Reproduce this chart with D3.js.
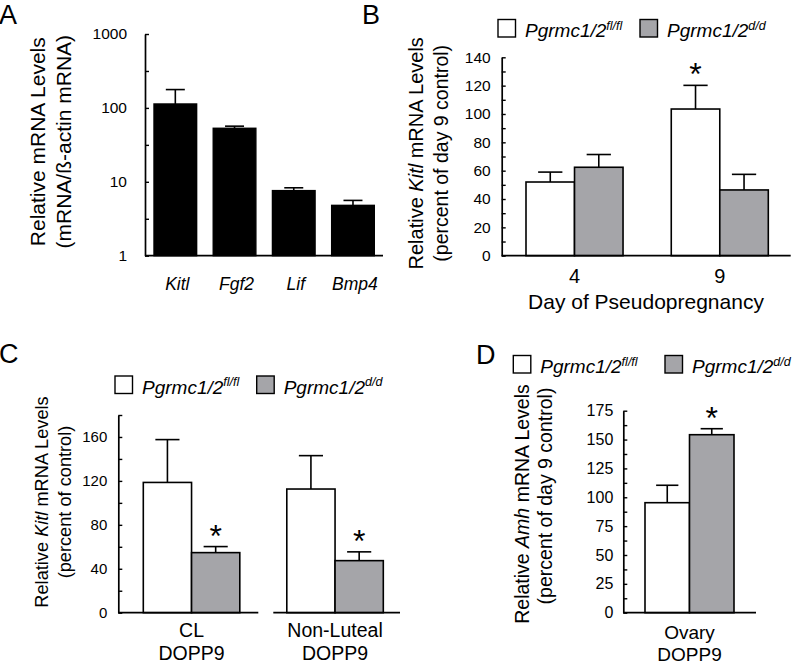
<!DOCTYPE html>
<html><head><meta charset="utf-8">
<script src="https://cdn.jsdelivr.net/npm/d3@7"></script>
<style>
body{margin:0;background:#fff}
svg text{font-family:"Liberation Sans",Arial,Helvetica,sans-serif;fill:#000;white-space:pre}
</style></head><body>
<svg id="c" width="800" height="665"></svg>
<script>
// ---------------- Data ----------------
// Panel A (log scale)
const aGenes = ["Kitl", "Fgf2", "Lif", "Bmp4"];
const aMean  = [113, 53, 7.6, 4.8];
const aSem   = [64, 3.6, 0.7, 0.8];
const aTicks = [1, 10, 100, 1000];
const aMinor = [3.16, 31.6, 316];

// Genotypes / legend
const genoKeys = ["fl", "dd"];
const genoBase = "Pgrmc1/2";
const genoSup  = ["fl/fl", "d/d"];

// Panel B
const bDays   = ["4", "9"];
const bFl     = [52, 103.5];
const bFlSem  = [7, 16.7];
const bDd     = [62.4, 46.4];
const bDdSem  = [9, 11];
const bFlSig  = [false, true];
const bDdSig  = [false, false];
const bTicks  = [0, 20, 40, 60, 80, 100, 120, 140];
const bMinor  = [10, 30, 50, 70, 90, 110, 130];

// Panel C
const cGroups = ["CL", "Non-Luteal"];
const cSub    = "DOPP9";
const cFl     = [118.6, 112.6];
const cFlSem  = [39, 30.4];
const cDd     = [54.7, 47.4];
const cDdSem  = [5.5, 8];
const cFlSig  = [false, false];
const cDdSig  = [true, true];
const cTicks  = [0, 40, 80, 120, 160];
const cMinor  = [20, 60, 100, 140, 180];

// Panel D
const dGroups = ["Ovary"];
const dSub    = "DOPP9";
const dFl     = [95.3];
const dFlSem  = [15.1];
const dDd     = [154.2];
const dDdSem  = [5.2];
const dFlSig  = [false];
const dDdSig  = [true];
const dTicks  = [0, 25, 50, 75, 100, 125, 150, 175];
const dMinor  = [12.5, 37.5, 62.5, 87.5, 112.5, 137.5, 162.5];

// ---------------- Drawing ----------------
const svg = d3.select("#c");
const GRAY = "#a5a5a9";
const fills = {fl: "#ffffff", dd: GRAY};

function yAxis(scale, x, ticks, minor, fs, pad) {
  const all = ticks.concat(minor).sort((a, b) => a - b);
  const ax = d3.axisLeft(scale).tickValues(all)
    .tickSizeInner(-4).tickSizeOuter(0).tickPadding(pad)
    .tickFormat(d => ticks.includes(d) ? String(d) : "");
  const a = svg.append("g").attr("transform", `translate(${x},0)`).call(ax);
  a.select(".domain").attr("stroke", "#000").attr("stroke-width", 1.7);
  a.selectAll(".tick line").attr("stroke", "#000").attr("stroke-width", 1.4);
  a.selectAll(".tick text").attr("font-size", fs).attr("fill", "#000");
}

function xLine(x1, x2, y) {
  svg.append("line").attr("x1", x1).attr("x2", x2).attr("y1", y).attr("y2", y)
    .attr("stroke", "#000").attr("stroke-width", 1.7);
}

function panelLabel(t, x, y) {
  svg.append("text").attr("x", x).attr("y", y).attr("font-size", 27).text(t);
}

function yTitle(cx, cy, fs, parts) {
  const t = svg.append("text").attr("transform", `translate(${cx},${cy}) rotate(-90)`)
    .attr("text-anchor", "middle").attr("dominant-baseline", "central").attr("font-size", fs);
  parts.forEach(p => t.append("tspan").attr("font-style", p[1] ? "italic" : "normal").text(p[0]));
}

function legend(x1, x2, base, fs) {
  const sq = 17.5;
  [x1, x2].forEach((lx, i) => {
    svg.append("rect").attr("x", lx).attr("y", base - sq).attr("width", sq).attr("height", sq)
      .attr("fill", fills[genoKeys[i]]).attr("stroke", "#000").attr("stroke-width", 1.4);
    const t = svg.append("text").attr("x", lx + sq + 9.5).attr("y", base)
      .attr("font-size", fs).attr("font-style", "italic");
    t.append("tspan").text(genoBase);
    t.append("tspan").attr("font-size", fs * 0.66).attr("dy", -fs * 0.38).text(genoSup[i]);
  });
}

// ---- Panel A ----
(function () {
  const y = d3.scaleLog().domain([1, 1000]).range([255.7, 34]);
  const x = d3.scaleBand().domain(aGenes).range([154, 374.3]).paddingInner(0.28).paddingOuter(0);
  const bw = x.bandwidth();
  const data = aGenes.map((g, i) => ({g, v: aMean[i], s: aSem[i]}));
  const eb = svg.append("g").attr("stroke", "#000").attr("stroke-width", 1.6);
  eb.selectAll(".v").data(data).join("line")
    .attr("x1", d => x(d.g) + bw / 2).attr("x2", d => x(d.g) + bw / 2)
    .attr("y1", d => y(d.v)).attr("y2", d => y(d.v + d.s));
  eb.selectAll(".c").data(data).join("line")
    .attr("x1", d => x(d.g) + bw / 2 - 9.5).attr("x2", d => x(d.g) + bw / 2 + 9.5)
    .attr("y1", d => y(d.v + d.s)).attr("y2", d => y(d.v + d.s));
  svg.append("g").selectAll("rect").data(data).join("rect")
    .attr("x", d => x(d.g)).attr("width", bw)
    .attr("y", d => y(d.v)).attr("height", d => y(1) - y(d.v))
    .attr("fill", "#000").attr("stroke", "#000").attr("stroke-width", 1.4);
  yAxis(y, 145, aTicks, aMinor, 15.5, 18);
  xLine(145, 383, y(1));
  svg.append("g").selectAll("text").data(data).join("text")
    .attr("x", d => x(d.g) + bw / 2 + 2).attr("y", 289.5)
    .attr("text-anchor", "middle").attr("font-size", 17.5).attr("font-style", "italic")
    .text(d => d.g);
  yTitle(36.7, 141.7, 21, [["Relative mRNA Levels", false]]);
  yTitle(63, 141.7, 21, [["(mRNA/ß-actin mRNA)", false]]);
  panelLabel("A", -1, 24);
})();

// ---- Grouped panels ----
function grouped(o) {
  const y = d3.scaleLinear().domain(o.yDomain).range(o.yRange);
  const x0 = d3.scaleBand().domain(o.groups).range(o.xRange).paddingInner(o.pad).paddingOuter(0);
  const x1 = d3.scaleBand().domain(genoKeys).range([0, x0.bandwidth()]);
  const bw = x1.bandwidth();
  const rows = [];
  o.groups.forEach((grp, i) => {
    rows.push({grp, k: "fl", v: o.fl[i], s: o.flSem[i], sig: o.flSig[i]});
    rows.push({grp, k: "dd", v: o.dd[i], s: o.ddSem[i], sig: o.ddSig[i]});
  });
  const cx = d => x0(d.grp) + x1(d.k) + bw / 2;
  const eb = svg.append("g").attr("stroke", "#000").attr("stroke-width", 1.6);
  eb.selectAll(".v").data(rows).join("line")
    .attr("x1", cx).attr("x2", cx)
    .attr("y1", d => y(d.v)).attr("y2", d => y(d.v + d.s));
  eb.selectAll(".c").data(rows).join("line")
    .attr("x1", d => cx(d) - bw * 0.25).attr("x2", d => cx(d) + bw * 0.25)
    .attr("y1", d => y(d.v + d.s)).attr("y2", d => y(d.v + d.s));
  svg.append("g").selectAll("rect").data(rows).join("rect")
    .attr("x", d => x0(d.grp) + x1(d.k)).attr("width", bw)
    .attr("y", d => y(d.v)).attr("height", d => y(0) - y(d.v))
    .attr("fill", d => fills[d.k]).attr("stroke", "#000").attr("stroke-width", 1.6);
  svg.append("g").selectAll("text").data(rows.filter(d => d.sig)).join("text")
    .attr("x", cx).attr("y", d => y(d.v + d.s))
    .attr("text-anchor", "middle").attr("font-size", 32).text("*");
  yAxis(y, o.axisX, o.ticks, o.minor, o.tickFs, o.tickPad);
  o.segments.forEach(s => xLine(s[0], s[1], y(0)));
  svg.append("g").selectAll("text").data(o.groups).join("text")
    .attr("x", d => x0(d) + x0.bandwidth() / 2).attr("y", o.labY)
    .attr("text-anchor", "middle").attr("font-size", o.labFs).text(d => d);
  if (o.sub) {
    svg.append("g").selectAll("text").data(o.groups).join("text")
      .attr("x", d => x0(d) + x0.bandwidth() / 2).attr("y", o.subY)
      .attr("text-anchor", "middle").attr("font-size", o.labFs).text(o.sub);
  }
}

// Panel B
grouped({
  groups: bDays, fl: bFl, flSem: bFlSem, dd: bDd, ddSem: bDdSem, flSig: bFlSig, ddSig: bDdSig,
  yDomain: [0, 140], yRange: [255.7, 57.3], xRange: [526, 768.3], pad: 0.332,
  axisX: 501.7, ticks: bTicks, minor: bMinor, tickFs: 15.5, tickPad: 11,
  segments: [[501.7, 790.7]], labY: 283, labFs: 20
});
svg.append("text").attr("x", 646).attr("y", 309).attr("text-anchor", "middle")
  .attr("font-size", 21).text("Day of Pseudopregnancy");
yTitle(415.7, 153.3, 20, [["Relative ", false], ["Kitl", true], [" mRNA Levels", false]]);
yTitle(440.7, 153.3, 19.5, [["(percent of day 9 control)", false]]);
legend(498, 640, 37, 19);
panelLabel("B", 362, 24);

// Panel C
grouped({
  groups: cGroups, fl: cFl, flSem: cFlSem, dd: cDd, ddSem: cDdSem, flSig: cFlSig, ddSig: cDdSig,
  yDomain: [0, 180], yRange: [612.7, 415], xRange: [143.3, 383.3], pad: 0.3275,
  axisX: 118.3, ticks: cTicks, minor: cMinor, tickFs: 15, tickPad: 11,
  segments: [[118.3, 258.3], [273.3, 400]], labY: 637, subY: 660, sub: cSub, labFs: 19.5
});
yTitle(41.7, 502, 18.2, [["Relative ", false], ["Kitl", true], [" mRNA Levels", false]]);
yTitle(64.5, 502, 18.2, [["(percent of control)", false]]);
legend(115, 256.7, 393.5, 19);
panelLabel("C", -1, 363);

// Panel D
grouped({
  groups: dGroups, fl: dFl, flSem: dFlSem, dd: dDd, ddSem: dDdSem, flSig: dFlSig, ddSig: dDdSig,
  yDomain: [0, 175], yRange: [612.7, 410.7], xRange: [645, 734], pad: 0,
  axisX: 623.3, ticks: dTicks, minor: dMinor, tickFs: 16, tickPad: 10,
  segments: [[623.3, 756]], labY: 639, subY: 660.5, sub: dSub, labFs: 19
});
yTitle(521.7, 504, 19.5, [["Relative ", false], ["Amh", true], [" mRNA Levels", false]]);
yTitle(545, 496, 19.5, [["(percent of day 9 control)", false]]);
legend(513.3, 665, 373, 19);
panelLabel("D", 476, 364);
</script>
</body></html>
